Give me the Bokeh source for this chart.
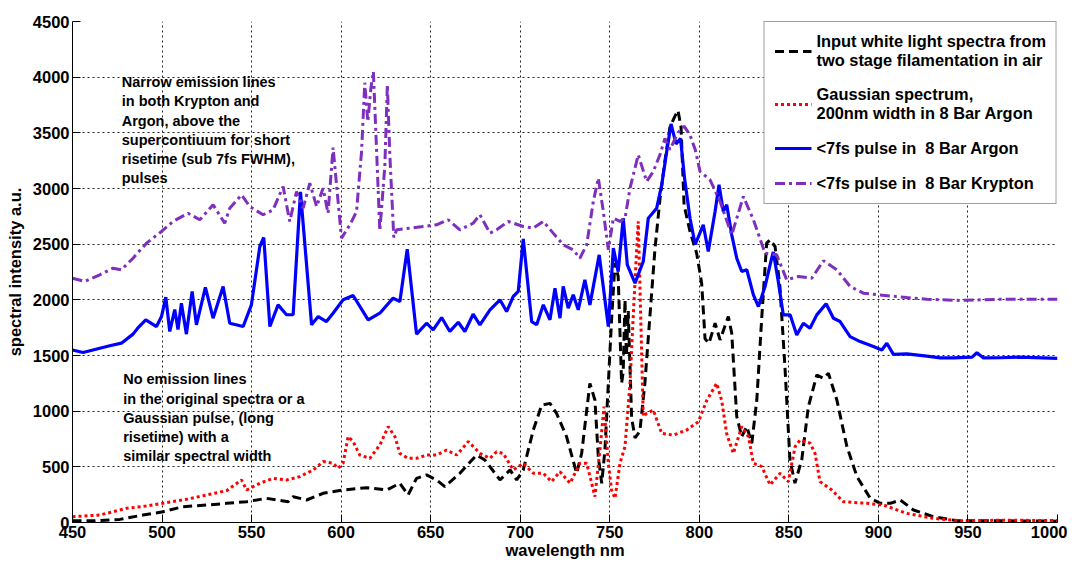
from bokeh.plotting import figure
from bokeh.models import Range1d, Legend, LegendItem, Label, FixedTicker
from bokeh.embed import file_html
from bokeh.resources import INLINE

# ---------------- data ----------------
x_ticks = [450, 500, 550, 600, 650, 700, 750, 800, 850, 900, 950, 1000]
y_ticks = [0, 500, 1000, 1500, 2000, 2500, 3000, 3500, 4000, 4500]

# Input white light spectra (black dashed)
wl_black = [450, 461.5, 476.4, 489.4, 500.6, 511.7, 524.8, 536, 547.2, 558.3, 570.4, 573.2, 580.7,
            589.9, 601.1, 614.2, 625.4, 632.8, 637.4, 642.1, 647.7, 653.3, 657.9, 666.3, 675.6,
            680.3, 683.1, 688.7, 694.3, 698, 701.7, 707.3, 712, 716.6, 720.3, 725.9, 731.5, 734.3,
            738.9, 741.7, 743.6, 745.5, 747.3, 749.2, 751.1, 752.9, 754.7, 756.6, 757.5, 758.5,
            759.3, 760.3, 762.2, 764.1, 766.8, 769.6, 772.4, 775.2, 778, 780.8, 783.6, 786.4,
            788.1, 789.8, 791.5, 794.8, 798.5, 801.3, 803.2, 805.4, 808.8, 811.6, 816.2, 818.1,
            820.9, 823.7, 826.5, 829.3, 832.1, 834.9, 837.6, 839.5, 842.3, 845, 847.8, 850.6,
            853.4, 857.2, 860.9, 865.6, 869.3, 872.1, 876.8, 882.4, 888, 895.4, 901, 906.6, 912.2,
            919.6, 930.7, 943.8, 968, 1000]
int_black = [15, 15, 28, 67, 97, 142, 157, 172, 187, 217, 187, 232, 202,
             262, 292, 313, 292, 352, 247, 397, 427, 382, 322, 442, 606,
             561, 502, 382, 472, 382, 472, 831, 1055, 1070, 980, 770, 442, 621,
             1250, 1100, 591, 352, 652, 1250, 1850, 2330, 2210, 1250, 1350, 2000,
             1500, 1900, 940, 760, 820, 1250, 1850, 2450, 2900, 3250, 3550, 3650,
             3700, 3550, 2850, 2614, 2419, 2150, 1650, 1610, 1790, 1640, 1850, 1700,
             952, 772, 862, 712, 1100, 1850, 2509, 2539, 2479, 2120, 1401, 563,
             353, 563, 1041, 1325, 1295, 1340, 1100, 682, 413, 218, 172, 172, 202,
             112, 52, 16, 15, 12]

# Gaussian spectrum, 200nm width in 8 Bar Argon (red dotted)
wl_red = [450, 465.2, 480.1, 491.3, 502.5, 513.6, 524.8, 536, 544.4, 547.2, 554.6, 562, 569.5,
          576.9, 584.4, 590, 595.5, 598.3, 601.1, 603.9, 606.7, 610.4, 616, 621.6, 626.3, 630,
          632.8, 637.4, 642.1, 647.7, 653.3, 658.9, 664.5, 671, 677.5, 683.1, 686.8, 690.5,
          696.1, 701.7, 707.3, 712.9, 717.5, 722.2, 727.8, 733.3, 737.1, 739.9, 741.7, 744.5,
          746.8, 749.2, 751, 752.9, 755.7, 758.5, 761.3, 763.1, 765, 765.9, 766.8, 768.7, 770.6,
          774.3, 779, 785.5, 793, 799.5, 804.1, 809.7, 812.5, 815.3, 819, 823.7, 827.4, 830.2,
          834.9, 839.5, 845.1, 849.7, 853.5, 856.3, 861.9, 864.6, 867.4, 874, 880.4, 893.5,
          902.8, 915.9, 930.8, 945.6, 968, 1000]
int_red = [52, 67, 127, 148, 178, 208, 247, 286, 382, 292, 352, 397, 382,
           412, 472, 547, 532, 487, 532, 772, 727, 606, 576, 696, 861, 772,
           621, 576, 576, 606, 606, 651, 606, 727, 621, 576, 636, 621,
           472, 532, 442, 442, 367, 457, 352, 532, 532, 352, 232, 652,
           1041, 532, 292, 217, 532, 682, 1250, 1850, 2449, 2704, 2150, 952, 980,
           1010, 800, 785, 831, 905, 1095, 1250, 1095, 796, 621, 862, 772, 532,
           502, 338, 442, 367, 682, 742, 712, 621, 367, 292, 187, 172,
           157, 82, 37, 16, 20, 18]

# <7fs pulse in 8 Bar Argon (blue solid)
wl_blue = [450, 455.9, 470.8, 477.3, 483.8, 486.4, 490.9, 496.9, 499.7, 502.1, 504.3, 507.1,
           508.9, 510.8, 513.6, 516.8, 519.2, 524.2, 528.5, 534.1, 537.8, 545.3, 549.9, 554.6,
           556.8, 560.2, 564.8, 569.5, 573.2, 577.3, 583.5, 587.2, 591.8, 595.5, 601.1, 606.7,
           615.1, 621.6, 629, 632.8, 636.9, 642.1, 647.7, 651.4, 656.1, 660.7, 665.4, 669.1,
           673.7, 677.5, 683.1, 688.7, 692.4, 696.1, 698.9, 701.7, 706.4, 709.2, 712.9, 716.6,
           719.4, 722.2, 724, 726.8, 729.6, 732.4, 736.1, 738.9, 744.1, 749.2, 752, 754.7, 757.5,
           759.8, 764.1, 768.7, 771.5, 776.2, 779, 781.8, 784.2, 787, 789.5, 791.7, 794.8, 797.7,
           802.2, 805, 808.8, 811, 813.4, 815.3, 818.1, 820.9, 823.7, 826.5, 830.2, 833, 836.7,
           840.4, 841.3, 844.1, 846.9, 850.7, 854.4, 858.1, 861.8, 865.6, 870.8, 874.9, 878.6,
           884.2, 889.8, 897.2, 901.9, 904.7, 908.4, 915.9, 927, 934.5, 941.9, 952.3, 955, 958.7,
           968, 979, 1000]
int_blue = [1550, 1527, 1587, 1611, 1692, 1745, 1820, 1760, 1850, 2024, 1716, 1913,
            1733, 1970, 1692, 2075, 1776, 2111, 1835, 2120, 1790, 1760, 1955, 2479,
            2560, 1760, 1955, 1866, 1866, 2970, 1776, 1850, 1805, 1880, 2000, 2039,
            1820, 1880, 2015, 1985, 2455, 1692, 1790, 1731, 1841, 1716, 1799, 1716,
            1871, 1776, 1910, 2000, 1895, 2030, 2075, 2548, 1805, 1776, 1955, 1820,
            2104, 1835, 2120, 1925, 2045, 1910, 2180, 1955, 2404, 1760, 2464, 2254, 2733,
            2314, 2150, 2344, 2733, 2823, 3033, 3332, 3580, 3400, 3450, 3100, 2733, 2497,
            2674, 2434, 2793, 3033, 2793, 2854, 2584, 2374, 2254, 2270, 2045, 1940, 2120,
            2374, 2430, 2165, 1865, 1865, 1685, 1790, 1745, 1865, 1965, 1835, 1805,
            1670, 1625, 1580, 1550, 1610, 1510, 1515, 1495, 1478, 1478, 1485, 1525, 1478,
            1480, 1485, 1475]

# <7fs pulse in 8 Bar Krypton (purple dash-dot)
wl_purple = [450, 456.8, 465.2, 472.6, 477.3, 483.8, 491.3, 499.7, 506.1, 514.5, 521.1, 528.5,
             535, 537.8, 544.4, 549, 556.4, 562, 567.6, 571.3, 575.1, 578.8, 582.5, 586.3, 589.9,
             592.7, 595.5, 600.2, 604.9, 608.6, 611.4, 613.2, 614.9, 616.6, 618, 619.4, 621.6,
             624.4, 625.8, 627.2, 629.4, 631, 638.4, 645.8, 653.3, 659.8, 666.3, 673.7, 677.5,
             683.1, 686.8, 693.3, 701.7, 707.3, 712.9, 718.4, 724, 729.6, 733.3, 737.1, 740.8,
             743.6, 746.4, 749.2, 752, 755.7, 758.5, 761.3, 765.9, 770.6, 774.3, 778, 780.8,
             783.6, 788, 791.5, 794.8, 797.7, 800.4, 806, 811.6, 818.1, 824.6, 830.2, 836.7,
             843.2, 848.8, 855.3, 862.8, 869.3, 876.8, 884.2, 891.6, 900, 915.9, 927, 945.6,
             968, 1000]
int_purple = [2194, 2165, 2225, 2284, 2270, 2374, 2509, 2614, 2704, 2778, 2719, 2854,
              2688, 2823, 2943, 2838, 2764, 2808, 3018, 2704, 2973, 2823, 3048, 2838, 3003,
              2778, 3368, 2554, 2674, 2793, 3332, 3950, 3600, 3900, 4050, 3500, 2620,
              3200, 3930, 3300, 2560, 2629, 2644, 2659, 2674, 2719, 2629, 2688, 2764,
              2599, 2629, 2704, 2659, 2644, 2704, 2599, 2494, 2449, 2374, 2494, 2883,
              3093, 2793, 2449, 2733, 2704, 2733, 3003, 3302, 3063, 3153, 3302, 3450,
              3350, 3500, 3560, 3480, 3350, 3153, 3078, 2883, 2584, 2928, 2719, 2419,
              2404, 2180, 2210, 2194, 2351, 2270, 2120, 2060, 2045, 2020, 2005, 1995,
              2005, 2005]

labels = ["Input white light spectra from\ntwo stage filamentation in air",
          "Gaussian spectrum,\n200nm width in 8 Bar Argon",
          "<7fs pulse in  8 Bar Argon",
          "<7fs pulse in  8 Bar Krypton"]

note_top = ("Narrow emission lines\nin both Krypton and\nArgon, above the\n"
            "supercontiuum for short\nrisetime (sub 7fs FWHM),\npulses")
note_bottom = ("No emission lines\nin the original spectra or a\nGaussian pulse, (long\n"
               "risetime) with a\nsimilar spectral width")

FONT = "Liberation Sans"

# ---------------- figure ----------------
p = figure(frame_width=985, frame_height=501,
           x_range=Range1d(450, 1000), y_range=Range1d(0, 4500),
           output_backend="svg", toolbar_location=None,
           min_border_left=72, min_border_top=21, min_border_right=10, min_border_bottom=39)
p.outline_line_color = None
p.background_fill_color = "white"

p.xaxis.ticker = FixedTicker(ticks=x_ticks)
p.yaxis.ticker = FixedTicker(ticks=y_ticks)
for ax in (p.xaxis[0], p.yaxis[0]):
    ax.major_tick_in = 8
    ax.major_tick_out = 0
    ax.minor_tick_in = 0
    ax.minor_tick_out = 0
    ax.axis_line_color = "black"
    ax.major_tick_line_color = "black"
    ax.major_label_text_font = FONT
    ax.major_label_text_font_style = "bold"
    ax.major_label_text_font_size = "16.5px"
    ax.major_label_text_color = "black"
    ax.axis_label_text_font = FONT
    ax.axis_label_text_font_style = "bold"
    ax.axis_label_text_font_size = "16.5px"
    ax.axis_label_text_color = "black"
    ax.major_label_standoff = 3
p.xaxis.axis_label = "wavelength nm"
p.yaxis.axis_label = "spectral intensity a.u."
p.xaxis.axis_label_standoff = 0
p.yaxis.axis_label_standoff = 6

for g in (p.xgrid[0], p.ygrid[0]):
    g.grid_line_color = "#222222"
    g.grid_line_dash = "2 3"
    g.grid_line_width = 1

r_black = p.line(wl_black, int_black, line_color="black", line_width=3, line_dash="9 5")
r_red = p.line(wl_red, int_red, line_color="#FF0000", line_width=3, line_dash="3 3")
r_blue = p.line(wl_blue, int_blue, line_color="#0000FF", line_width=3.2)
r_purple = p.line(wl_purple, int_purple, line_color="#7E2FBE", line_width=3, line_dash="10 4 3 4")

legend = Legend(items=[LegendItem(label=labels[0], renderers=[r_black]),
                       LegendItem(label=labels[1], renderers=[r_red]),
                       LegendItem(label=labels[2], renderers=[r_blue]),
                       LegendItem(label=labels[3], renderers=[r_purple])],
                location="top_right", margin=0, padding=10, spacing=15,
                glyph_width=37, label_standoff=5,
                label_text_font=FONT, label_text_font_style="bold",
                label_text_font_size="16.4px", label_text_color="black",
                label_text_line_height=1.25,
                border_line_color="#404040", border_line_width=1,
                background_fill_color="white", background_fill_alpha=1)
p.add_layout(legend)

for (tx, ty, txt) in [(477.5, 4026, note_top), (478.3, 1357, note_bottom)]:
    p.add_layout(Label(x=tx, y=ty, text=txt, text_font=FONT, text_font_style="bold",
                       text_font_size="14.5px", text_baseline="top", text_align="left",
                       text_line_height=1.2, text_color="black"))

open("out.html", "w").write(file_html(p, INLINE))
